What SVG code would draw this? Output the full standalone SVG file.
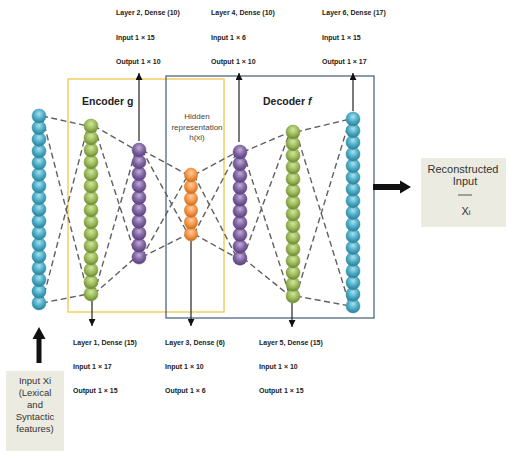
<svg xmlns="http://www.w3.org/2000/svg" xmlns:xlink="http://www.w3.org/1999/xlink" width="508" height="452" viewBox="0 0 508 452">
<style>
.lbl{font-family:"Liberation Sans",Arial,sans-serif;font-size:7px;font-weight:bold;fill:#222}
.ttl{font-family:"Liberation Sans",Arial,sans-serif;font-size:10.5px;font-weight:bold;fill:#222}
.hid{font-family:"Liberation Sans",Arial,sans-serif;font-size:8px;fill:#444}
.box{font-family:"Liberation Sans",Arial,sans-serif;font-size:9.5px;fill:#333}
.rbox{font-family:"Liberation Sans",Arial,sans-serif;font-size:11px;fill:#333}
.dash{stroke:#606060;stroke-width:1.4;stroke-dasharray:6 3.5;fill:none}
.thin{stroke:#333;stroke-width:1.3;fill:none}
</style>
<defs>
<radialGradient id="gC" cx="50%" cy="35%" r="65%"><stop offset="0" stop-color="#a9e1ef"/><stop offset="0.55" stop-color="#4bacc6"/><stop offset="1" stop-color="#2a7d95"/></radialGradient>
<radialGradient id="gG" cx="50%" cy="35%" r="65%"><stop offset="0" stop-color="#d3e5a0"/><stop offset="0.55" stop-color="#9bbb59"/><stop offset="1" stop-color="#6a8533"/></radialGradient>
<radialGradient id="gP" cx="50%" cy="35%" r="65%"><stop offset="0" stop-color="#c0aed6"/><stop offset="0.55" stop-color="#8064a2"/><stop offset="1" stop-color="#54407a"/></radialGradient>
<radialGradient id="gO" cx="50%" cy="35%" r="65%"><stop offset="0" stop-color="#fdcda5"/><stop offset="0.55" stop-color="#f79646"/><stop offset="1" stop-color="#c46a1f"/></radialGradient>
<ellipse id="bC" rx="7" ry="7" fill="url(#gC)" stroke="#3590a9" stroke-width="0.5"/>
<ellipse id="bG" rx="7" ry="7" fill="url(#gG)" stroke="#7a983f" stroke-width="0.5"/>
<ellipse id="bP" rx="7" ry="7" fill="url(#gP)" stroke="#654d8c" stroke-width="0.5"/>
<ellipse id="bO" rx="6.6" ry="7" fill="url(#gO)" stroke="#d67a2a" stroke-width="0.5"/>
<marker id="ah" viewBox="0 0 8 8" refX="8" refY="4" markerWidth="7" markerHeight="7" markerUnits="userSpaceOnUse" orient="auto"><path d="M0,0 L8,4 L0,8 Z" fill="#111"/></marker>
</defs>
<rect width="508" height="452" fill="#fff"/>

<g id="encoder-box">
<rect x="68" y="79" width="156" height="233" fill="none" stroke="#f2cf63" stroke-width="1.5"/>
<text class="ttl" x="82" y="105">Encoder g</text>
</g>
<g id="decoder-box">
<rect x="166" y="76" width="208" height="242" fill="none" stroke="#3f5a78" stroke-width="1.2"/>
<text class="ttl" x="263" y="105">Decoder <tspan font-style="italic">f</tspan></text>
</g>

<g id="connectors">
<path class="dash" d="M42,116 L88,126 M42,303 L88,294 M42,116 L88,294 M42,303 L88,126"/>
<path class="dash" d="M94,126 L136,150 M94,294 L136,257 M94,126 L136,257 M94,294 L136,150"/>
<path class="dash" d="M142,150 L188,175 M142,257 L188,234 M142,150 L188,234 M142,257 L188,175"/>
<path class="dash" d="M194,175 L237,152 M194,234 L237,258 M194,175 L237,258 M194,234 L237,152"/>
<path class="dash" d="M243,152 L290,132 M243,258 L290,296 M243,152 L290,296 M243,258 L290,132"/>
<path class="dash" d="M296,132 L350,119 M296,296 L350,306 M296,132 L350,306 M296,296 L350,119"/>
<line class="thin" x1="139" y1="141" x2="139" y2="73" marker-end="url(#ah)"/>
<line class="thin" x1="239" y1="142" x2="239" y2="73" marker-end="url(#ah)"/>
<line class="thin" x1="353" y1="111" x2="353" y2="73" marker-end="url(#ah)"/>
<line class="thin" x1="92" y1="301" x2="92" y2="326" marker-end="url(#ah)"/>
<line class="thin" x1="191" y1="241" x2="191" y2="326" marker-end="url(#ah)"/>
<line class="thin" x1="292" y1="303" x2="292" y2="327" marker-end="url(#ah)"/>
<path d="M36.5,363 L36.5,339 L32.5,339 L39,327 L45.5,339 L41.5,339 L41.5,363 Z" fill="#111"/>
<path d="M373,184 L400,184 L400,180.5 L411,187 L400,193.5 L400,190 L373,190 Z" fill="#111"/>
</g>

<g id="input-layer">
<use href="#bC" x="39" y="303"/><use href="#bC" x="39" y="291.3"/><use href="#bC" x="39" y="279.7"/><use href="#bC" x="39" y="268"/><use href="#bC" x="39" y="256.3"/><use href="#bC" x="39" y="244.6"/><use href="#bC" x="39" y="232.9"/><use href="#bC" x="39" y="221.2"/><use href="#bC" x="39" y="209.5"/><use href="#bC" x="39" y="197.8"/><use href="#bC" x="39" y="186.1"/><use href="#bC" x="39" y="174.4"/><use href="#bC" x="39" y="162.8"/><use href="#bC" x="39" y="151.1"/><use href="#bC" x="39" y="139.4"/><use href="#bC" x="39" y="127.7"/><use href="#bC" x="39" y="116"/>
</g>
<g id="layer1">
<use href="#bG" x="91" y="294"/><use href="#bG" x="91" y="282"/><use href="#bG" x="91" y="270"/><use href="#bG" x="91" y="258"/><use href="#bG" x="91" y="246"/><use href="#bG" x="91" y="234"/><use href="#bG" x="91" y="222"/><use href="#bG" x="91" y="210"/><use href="#bG" x="91" y="198"/><use href="#bG" x="91" y="186"/><use href="#bG" x="91" y="174"/><use href="#bG" x="91" y="162"/><use href="#bG" x="91" y="150"/><use href="#bG" x="91" y="138"/><use href="#bG" x="91" y="126"/>
</g>
<g id="layer2">
<use href="#bP" x="139" y="257.1"/><use href="#bP" x="139" y="245.2"/><use href="#bP" x="139" y="233.3"/><use href="#bP" x="139" y="221.4"/><use href="#bP" x="139" y="209.5"/><use href="#bP" x="139" y="197.6"/><use href="#bP" x="139" y="185.7"/><use href="#bP" x="139" y="173.8"/><use href="#bP" x="139" y="161.9"/><use href="#bP" x="139" y="150"/>
</g>
<g id="layer3">
<use href="#bO" x="191" y="234"/><use href="#bO" x="191" y="222.2"/><use href="#bO" x="191" y="210.4"/><use href="#bO" x="191" y="198.6"/><use href="#bO" x="191" y="186.8"/><use href="#bO" x="191" y="175"/>
<text class="hid" fill="#444" text-anchor="middle" x="197" y="119">Hidden</text>
<text class="hid" fill="#444" text-anchor="middle" x="197" y="130">representation</text>
<text class="hid" fill="#444" text-anchor="middle" x="197" y="140">h(xi)</text>
</g>
<g id="layer4">
<use href="#bP" x="240" y="258.2"/><use href="#bP" x="240" y="246.4"/><use href="#bP" x="240" y="234.6"/><use href="#bP" x="240" y="222.8"/><use href="#bP" x="240" y="211"/><use href="#bP" x="240" y="199.2"/><use href="#bP" x="240" y="187.4"/><use href="#bP" x="240" y="175.6"/><use href="#bP" x="240" y="163.8"/><use href="#bP" x="240" y="152"/>
</g>
<g id="layer5">
<use href="#bG" x="293" y="296"/><use href="#bG" x="293" y="284.3"/><use href="#bG" x="293" y="272.6"/><use href="#bG" x="293" y="260.9"/><use href="#bG" x="293" y="249.1"/><use href="#bG" x="293" y="237.4"/><use href="#bG" x="293" y="225.7"/><use href="#bG" x="293" y="214"/><use href="#bG" x="293" y="202.3"/><use href="#bG" x="293" y="190.6"/><use href="#bG" x="293" y="178.9"/><use href="#bG" x="293" y="167.1"/><use href="#bG" x="293" y="155.4"/><use href="#bG" x="293" y="143.7"/><use href="#bG" x="293" y="132"/>
</g>
<g id="layer6">
<use href="#bC" x="353" y="306"/><use href="#bC" x="353" y="294.3"/><use href="#bC" x="353" y="282.7"/><use href="#bC" x="353" y="271"/><use href="#bC" x="353" y="259.3"/><use href="#bC" x="353" y="247.6"/><use href="#bC" x="353" y="235.9"/><use href="#bC" x="353" y="224.2"/><use href="#bC" x="353" y="212.5"/><use href="#bC" x="353" y="200.8"/><use href="#bC" x="353" y="189.1"/><use href="#bC" x="353" y="177.4"/><use href="#bC" x="353" y="165.8"/><use href="#bC" x="353" y="154.1"/><use href="#bC" x="353" y="142.4"/><use href="#bC" x="353" y="130.7"/><use href="#bC" x="353" y="119"/>
</g>

<g id="label-layer2">
<text class="lbl" x="116" y="15">Layer 2, Dense (10)</text>
<text class="lbl" x="116" y="40">Input 1 × 15</text>
<text class="lbl" x="116" y="64">Output 1 × 10</text>
</g>
<g id="label-layer4">
<text class="lbl" x="211" y="15">Layer 4, Dense (10)</text>
<text class="lbl" x="211" y="40">Input 1 × 6</text>
<text class="lbl" x="211" y="64">Output 1 × 10</text>
</g>
<g id="label-layer6">
<text class="lbl" x="322" y="15">Layer 6, Dense (17)</text>
<text class="lbl" x="322" y="40">Input 1 × 15</text>
<text class="lbl" x="322" y="64">Output 1 × 17</text>
</g>
<g id="label-layer1">
<text class="lbl" x="73" y="345">Layer 1, Dense (15)</text>
<text class="lbl" x="73" y="369">Input 1 × 17</text>
<text class="lbl" x="73" y="393">Output 1 × 15</text>
</g>
<g id="label-layer3">
<text class="lbl" x="165" y="345">Layer 3, Dense (6)</text>
<text class="lbl" x="165" y="369">Input 1 × 10</text>
<text class="lbl" x="165" y="393">Output 1 × 6</text>
</g>
<g id="label-layer5">
<text class="lbl" x="259" y="345">Layer 5, Dense (15)</text>
<text class="lbl" x="259" y="369">Input 1 × 10</text>
<text class="lbl" x="259" y="393">Output 1 × 15</text>
</g>

<g id="input-box">
<rect x="6" y="371" width="58" height="80" fill="#ecebe1"/>
<text class="box" text-anchor="middle" x="35" y="384">Input Xi</text>
<text class="box" text-anchor="middle" x="35" y="396">(Lexical</text>
<text class="box" text-anchor="middle" x="35" y="408">and</text>
<text class="box" text-anchor="middle" x="35" y="420">Syntactic</text>
<text class="box" text-anchor="middle" x="35" y="432">features)</text>
</g>
<g id="reconstructed-box">
<rect x="421" y="158" width="85" height="69" fill="#ecebe1"/>
<text class="rbox" text-anchor="middle" x="463" y="173">Reconstructed</text>
<text class="rbox" text-anchor="middle" x="465" y="185">Input</text>
<line x1="458" y1="195" x2="472" y2="195" stroke="#555" stroke-width="1"/>
<text class="rbox" text-anchor="middle" x="466" y="215">X<tspan font-size="8px">i</tspan></text>
</g>
</svg>
